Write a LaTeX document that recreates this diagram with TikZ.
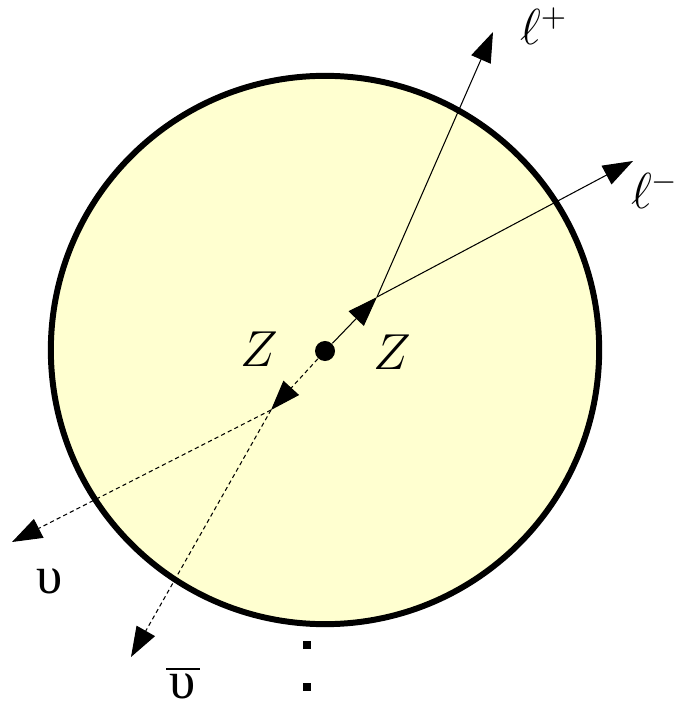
\documentclass[tikz,border=0pt]{standalone}
\usepackage{fontspec}
\usetikzlibrary{arrows.meta}
\newfontfamily\greekfont{Liberation Serif}
\definecolor{blobyellow}{RGB}{255,255,208}

\begin{document}
\begin{tikzpicture}
  [x=0.01cm,y=-0.01cm,
   lbl/.style={inner sep=0pt,font=\fontsize{13.5}{16}\selectfont},
   tip/.style={-{Triangle[length=3mm,width=2.1mm]}},
   thinline/.style={line width=0.3pt},
   dashline/.style={line width=0.3pt,dash pattern=on 1.2pt off 0.9pt}]
  \useasboundingbox (0,0) rectangle (677,713);

  % the blob
  \node (blob) [circle,draw,line width=1.7pt,fill=blobyellow,
                inner sep=0pt,minimum size=5.48cm] at (325,350) {};

  % the Z pair vertex and the two decay vertices
  \node (zdot) [circle,fill,inner sep=0pt,minimum size=0.2cm] at (325,351) {};
  \coordinate (upv) at (377,297);
  \coordinate (lowv) at (271,410);

  % free ends of the outgoing particles
  \coordinate (lp) at (493,32);
  \coordinate (lm) at (633,161);
  \coordinate (nu) at (12,542);
  \coordinate (nub) at (131,657);

  % Z propagators
  \draw[tip,thinline] (zdot) -- (upv);
  \draw[tip,dashline] (zdot) -- (lowv);

  % leptons and neutrinos
  \foreach \to in {lp,lm}
    \draw[tip,thinline] (upv) -- (\to);
  \foreach \to in {nu,nub}
    \draw[tip,dashline] (lowv) -- (\to);

  % labels
  \node[lbl] (zl) at (259,349) {$Z$};
  \node[lbl] (zr) at (392,352) {$Z$};
  \node[lbl] (lpl) at (544,26) {$\ell^{+}$};
  \node[lbl] (lml) at (655,190) {$\ell^{-}$};
  \node[lbl,font=\fontsize{15}{18}\greekfont] (nul) at (50,581) {υ};
  \node[lbl,font=\fontsize{15}{18}\greekfont] (nubl) at (183,683)
    {$\overline{\hbox{\kern1pt\greekfont υ\kern1pt}}$};

  % the dots below
  \foreach \y/\n in {645/d1, 687/d2}
    \node[rectangle,fill,inner sep=0pt,minimum size=0.08cm] (\n) at (307,\y) {};

\end{tikzpicture}
\end{document}
